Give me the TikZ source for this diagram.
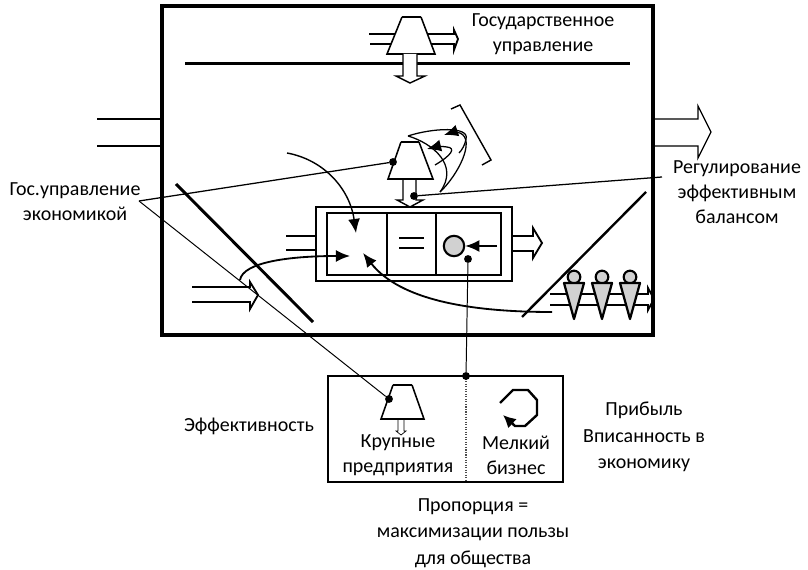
\documentclass[tikz,border=0pt]{standalone}
\usepackage{fontspec}
\setmainfont{Carlito}
\usetikzlibrary{arrows.meta}
\tikzset{
    label/.style={align=center, font=\fontsize{14.2}{17.6}\selectfont, inner sep=0pt},
    dotnode/.style={circle, fill=black, inner sep=0pt, minimum size=5.6pt},
    headnode/.style={circle, draw, line width=1.5pt, fill=black!18, inner sep=0pt, minimum size=9pt},
    trap/.style={line width=1.1pt, fill=white, line join=miter},
    flow/.style={line width=1.3pt},
    wall/.style={line width=2.1pt},
    curved/.style={line width=1pt, -{Latex[length=10pt,width=8.5pt]}}
}
\begin{document}
\begin{tikzpicture}[x=0.025cm, y=-0.025cm]
        \useasboundingbox (0,0) rectangle (808,570);

        % outer box
        \draw[line width=2.8pt] (162,6) rectangle (653,335);
        \draw[line width=2.5pt] (185,63.3) -- (630,63.3);
        \draw[wall] (176,184) -- (313,322);
        \draw[line width=1.7pt] (522,317) -- (646,192);

        % big arrows through the wall
        \draw[line width=0.9pt] (97,119) -- (162,119);
        \draw[line width=0.9pt] (97,146) -- (162,146);
        \draw[line width=0.9pt] (653,119) -- (698,119) -- (698,106) -- (711,132) -- (698,158) -- (698,146) -- (653,146);

        % top unit
        \draw[flow] (369,34) -- (396,34);
        \draw[flow] (370,44) -- (393,44);
        \draw[flow] (427,34) -- (454,34) -- (454,30) -- (458,39) -- (454,50) -- (454,44) -- (431,44);
        \draw[trap] (402,17) -- (387,54) -- (435,54) -- (421,17);
        \draw[wall] (402,17) -- (421,17);
        \draw[line width=1.5pt] (387,54) -- (435,54);
        \draw[line width=1pt, fill=white] (403,54) -- (403,76) -- (396,76) -- (410,83) -- (425,76) -- (417,76) -- (417,54);

        % middle unit
        \draw[line width=1pt, fill=white] (403,179) -- (403,200) -- (397,200) -- (410,207) -- (423,200) -- (416,200) -- (416,179);
        \draw[trap] (401,142) -- (388,179) -- (433,179) -- (419,142);
        \draw[line width=1.6pt] (401,142) -- (419,142);
        \draw[line width=1.6pt] (388,179) -- (433,179);

        % loops round the middle unit
        \draw[line width=0.9pt] (408,136) .. controls (432,128) and (470,126) .. (466,139) .. controls (465,145) and (462,150) .. (459,153);
        \draw[line width=0.9pt] (408,136) .. controls (432,143) and (460,165) .. (440,192);
        \draw[curved, line width=0.9pt] (440,192) .. controls (458,175) and (476,140) .. (460,133) .. controls (456,132) and (450,133) .. (444,135);
        \draw[curved, line width=0.9pt] (435,165) .. controls (452,155) and (456,148) .. (447,147) .. controls (442,146) and (435,147) .. (427,149);
        \draw[line width=1pt] (451,109) -- (460,105) -- (491,160) -- (482,165);

        % central box
        \draw[line width=1.5pt] (316,207) rectangle (512,281);
        \draw[line width=1.5pt] (327,213) rectangle (501,275);
        \draw[line width=0.9pt] (387,213) -- (387,275);
        \draw[line width=0.9pt] (436,213) -- (436,275);
        \draw[flow] (399,238) -- (424,238);
        \draw[flow] (399,248) -- (424,248);
        \draw[flow] (286,236) -- (316,236);
        \draw[flow] (286,250) -- (316,250);
        \draw[flow] (512,236) -- (533,236) -- (533,228) -- (542,243) -- (533,258) -- (533,251) -- (512,251);
        \node[circle, draw, line width=1.5pt, fill=black!18, inner sep=0pt, minimum size=14.5pt] (ball) at (454,246) {};
        \coordinate (ballfrom) at (497,246);
        \draw[line width=1.4pt, -{Latex[length=10pt,width=8.5pt]}] (ballfrom) -- (ball);

        % lower left arrow
        \draw[flow] (192,287) -- (250,287) -- (250,282) -- (258,295) -- (250,309) -- (250,302) -- (192,302);

        % curved arrows into the central box
        \draw[curved] (287,153) .. controls (325,160) and (350,190) .. (356,233);
        \draw[curved, line width=1.3pt] (240,280) .. controls (243,262) and (290,256) .. (350,256);
        \draw[curved, line width=1.3pt] (552,312) .. controls (470,312) and (400,300) .. (363,253);

        % people
        \draw[flow] (550,294) -- (648,294) -- (648,288) -- (654,299) -- (648,310) -- (648,305) -- (550,305);
        \foreach \px/\pname in {574/a, 602/b, 630/c} {
            \node[headnode] (head\pname) at (\px,277) {};
            \draw[line width=1.6pt, fill=black!18, line join=round] (\px-10,283) -- (\px+10,283) -- (\px,319) -- cycle;
        }

        % bottom box
        \draw[wall] (328,376) rectangle (563,482);
        \draw[line width=0.8pt, densely dotted, black!70] (466,376) -- (466,482);
        \draw[trap] (393,385) -- (381,419) -- (424,419) -- (412,385);
        \draw[wall] (393,385) -- (412,385);
        \draw[line width=1.5pt] (381,419) -- (424,419);
        \draw[line width=0.5pt] (398,419) -- (398,431) -- (396,431) -- (401,435) -- (406,431) -- (404,431) -- (404,419);
        \draw[line width=1.7pt, -{Latex[length=9pt,width=9pt]}] (500,403) -- (513,390) -- (528,390) -- (537,400) -- (537,415) -- (525,426) -- (515,426) -- (503,415);

        % labels
        \node[label] (gosupr) at (543,34) {Государственное\\управление};
        \node[label] (regul) at (737,192) {Регулирование\\эффективным\\балансом};
        \node[label] (gosecon) at (75,202) {Гос.управление\\экономикой};
        \node[label] (effect) at (249,426) {Эффективность};
        \node[label] (large) at (398,455) {Крупные\\предприятия};
        \node[label] (small) at (516,455) {Мелкий\\бизнес};
        \node[label] (profit) at (644,437) {Прибыль\\[1.4pt]Вписанность в\\[1.4pt]экономику};
        \node[label] (propor) at (473,533) {Пропорция =\\[1.4pt]максимизации пользы\\[1.4pt]для общества};

        % leader lines
        \coordinate (apex) at (139,201);
        \node[dotnode] (dotmid) at (393,162) {};
        \node[dotnode] (dotlarge) at (389,399) {};
        \node[dotnode] (dotshaft) at (414,196) {};
        \node[dotnode] (dotball) at (468,259) {};
        \node[dotnode] (dottop) at (466,376) {};
        \coordinate (regulend) at (662,177);
        \draw[line width=0.9pt] (apex) -- (dotmid);
        \draw[line width=0.7pt] (apex) -- (dotlarge);
        \draw[line width=0.9pt] (dotshaft) -- (regulend);
        \draw[line width=0.7pt] (dotball) -- (dottop);

    \end{tikzpicture}
\end{document}
